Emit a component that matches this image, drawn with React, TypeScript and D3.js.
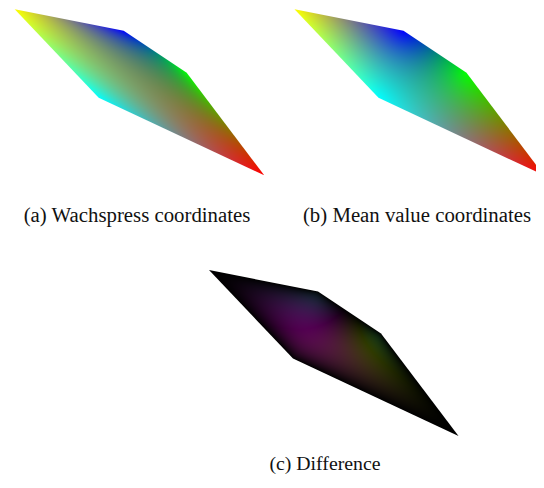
import * as d3 from 'd3';
import React, { useMemo } from 'react';

// polygon vertices (local units) and their colours
const vertexX = [0, 109, 172, 249.5, 84];
const vertexY = [0, 21.5, 63.5, 166, 88.5];
const vertexColor = ['#ffff00', '#0000ff', '#00ff00', '#ff0000', '#00ffff'];

const panelKinds = ['wachspress', 'meanvalue', 'difference'];
const panelLabels = ['(a) Wachspress coordinates', '(b) Mean value coordinates', '(c) Difference'];

// layout of the three panels
const layout = [
  { ox: 14.7, oy: 9.3, lx: 137, ly: 222, fs: 20.8 },
  { ox: 294.5, oy: 9.3, lx: 417, ly: 222, fs: 20.8 },
  { ox: 209, oy: 270, lx: 325, ly: 470, fs: 19.8 },
];

const diffGain = 1;

type P = [number, number];

const area = (a: P, b: P, c: P) => ((b[0] - a[0]) * (c[1] - a[1]) - (c[0] - a[0]) * (b[1] - a[1])) / 2;

function wachspress(pts: P[], x: P) {
  const n = pts.length;
  const w = pts.map((v, i) => {
    const prev = pts[(i - 1 + n) % n];
    const next = pts[(i + 1) % n];
    const c = area(prev, v, next);
    const a1 = area(x, prev, v);
    const a2 = area(x, v, next);
    return c / (a1 * a2);
  });
  const s = d3.sum(w);
  return w.map((d) => d / s);
}

function meanValue(pts: P[], x: P) {
  const n = pts.length;
  const r = pts.map((v) => Math.hypot(v[0] - x[0], v[1] - x[1]));
  const tanHalf = pts.map((v, i) => {
    const nx = pts[(i + 1) % n];
    const ax = v[0] - x[0], ay = v[1] - x[1];
    const bx = nx[0] - x[0], by = nx[1] - x[1];
    const ang = Math.atan2(Math.abs(ax * by - ay * bx), ax * bx + ay * by);
    return Math.tan(ang / 2);
  });
  const w = pts.map((_, i) => (tanHalf[(i - 1 + n) % n] + tanHalf[i]) / r[i]);
  const s = d3.sum(w);
  return w.map((d) => d / s);
}

export default function App() {
  const width = 544;
  const height = 488;
  const pts: P[] = vertexX.map((x, i) => [x, vertexY[i]]);
  const cols = vertexColor.map((c) => d3.rgb(c));
  const [x0, x1] = d3.extent(vertexX) as [number, number];
  const [y0, y1] = d3.extent(vertexY) as [number, number];

  const images = useMemo(() => {
    const centre = d3.polygonCentroid(pts);
    return panelKinds.map((kind, pi) => {
      const p = layout[pi];
      const bx = Math.floor(p.ox + x0) - 1;
      const by = Math.floor(p.oy + y0) - 1;
      const w = Math.ceil(p.ox + x1) - bx + 2;
      const h = Math.ceil(p.oy + y1) - by + 2;
      const canvas = document.createElement('canvas');
      canvas.width = w;
      canvas.height = h;
      const ctx = canvas.getContext('2d')!;
      const img = ctx.createImageData(w, h);
      const sx = d3.scaleLinear().domain([p.ox, p.ox + 1]).range([0, 1]);
      const sy = d3.scaleLinear().domain([p.oy, p.oy + 1]).range([0, 1]);
      for (let j = 0; j < h; j++) {
        for (let i = 0; i < w; i++) {
          let q: P = [sx(bx + i + 0.5), sy(by + j + 0.5)];
          if (!d3.polygonContains(pts, q)) {
            q = [q[0] + (centre[0] - q[0]) * 0.02, q[1] + (centre[1] - q[1]) * 0.02];
          }
          const lw = wachspress(pts, q);
          const lm = meanValue(pts, q);
          const mix = (l: number[]) => [
            d3.sum(l, (d, k) => d * cols[k].r),
            d3.sum(l, (d, k) => d * cols[k].g),
            d3.sum(l, (d, k) => d * cols[k].b),
          ];
          const cw = mix(lw);
          const cm = mix(lm);
          let c: number[];
          if (kind === 'wachspress') c = cw;
          else if (kind === 'meanvalue') c = cm;
          else c = cw.map((v, k) => Math.abs(v - cm[k]) * diffGain);
          const o = (j * w + i) * 4;
          img.data[o] = Math.max(0, Math.min(255, c[0]));
          img.data[o + 1] = Math.max(0, Math.min(255, c[1]));
          img.data[o + 2] = Math.max(0, Math.min(255, c[2]));
          img.data[o + 3] = 255;
        }
      }
      ctx.putImageData(img, 0, 0);
      return { href: canvas.toDataURL(), w, h, bx, by };
    });
  }, []);

  return (
    <svg width={width} height={height} style={{ display: 'block', margin: '-8px', background: '#fff' }}>
      <defs>
        {layout.map((p, i) => (
          <clipPath id={`clip-${i}`} key={i}>
            <path d={d3.line()(pts.map(([x, y]) => [x + p.ox, y + p.oy]))! + 'Z'} />
          </clipPath>
        ))}
      </defs>
      {layout.map((p, i) => {
        const im = images[i];
        return (
          <g key={i}>
            <image
              href={im.href}
              x={im.bx}
              y={im.by}
              width={im.w}
              height={im.h}
              clipPath={`url(#clip-${i})`}
              preserveAspectRatio="none"
            />
            <text
              x={p.lx}
              y={p.ly}
              textAnchor="middle"
              fontFamily="Times New Roman, Times, Liberation Serif, DejaVu Serif, serif"
              fontSize={p.fs}
              fill="#111"
            >
              {panelLabels[i]}
            </text>
          </g>
        );
      })}
    </svg>
  );
}
